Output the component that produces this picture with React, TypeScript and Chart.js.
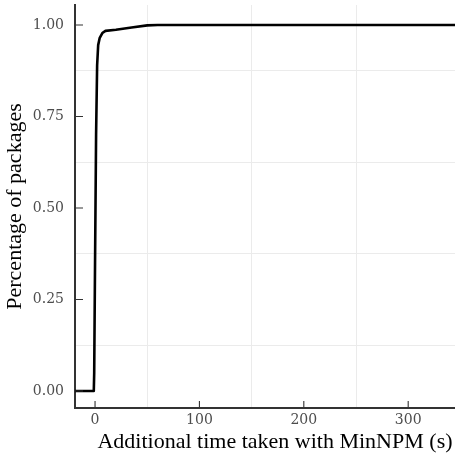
import React, { useEffect, useRef } from "react";
import { Chart, registerables } from "chart.js";

Chart.register(...registerables);

// ECDF of additional time (s) vs share of packages
const timeSeconds = [-19.2, -1.2, -0.8, 0, 1, 2, 3, 4.5, 7, 10, 20, 35, 50, 60, 364];
const cumShare = [0, 0, 0.05, 0.35, 0.7, 0.89, 0.945, 0.965, 0.978, 0.984, 0.987, 0.993, 0.999, 1.0, 1.0];

const xMajorTicks = [0, 100, 200, 300];
const xMinorTicks = [50, 150, 250, 350];
const yMajorTicks = [0, 0.25, 0.5, 0.75, 1];
const yMinorTicks = [0.125, 0.375, 0.625, 0.875];

const X_MIN = -19.2;
const X_MAX = 364;
const Y_MIN = -0.0464;
const Y_MAX = 1.0546;

const TITLE_FONT = "'Liberation Serif', serif";
const TICK_FONT = "'DejaVu Serif', serif";

const isIn = (arr: number[], v: number) => arr.some((a) => Math.abs(a - v) < 1e-9);

const inwardTicks = {
  id: "inwardTicks",
  afterDatasetsDraw(chart: any) {
    const { ctx, chartArea, scales } = chart;
    ctx.save();
    ctx.strokeStyle = "#333333";
    ctx.lineWidth = 1.1;
    ctx.beginPath();
    for (const v of xMajorTicks) {
      const px = scales.x.getPixelForValue(v);
      if (px < chartArea.left || px > chartArea.right) continue;
      ctx.moveTo(px, chartArea.bottom);
      ctx.lineTo(px, chartArea.bottom - 7);
    }
    for (const v of yMajorTicks) {
      const py = scales.y.getPixelForValue(v);
      ctx.moveTo(chartArea.left, py);
      ctx.lineTo(chartArea.left + 8, py);
    }
    ctx.stroke();
    ctx.restore();
  },
};

export default function App() {
  const ref = useRef<HTMLCanvasElement | null>(null);

  useEffect(() => {
    if (!ref.current) return;
    const data = timeSeconds.map((x, i) => ({ x, y: cumShare[i] }));
    const chart = new Chart(ref.current, {
      type: "line",
      data: {
        datasets: [
          {
            data,
            borderColor: "#000000",
            borderWidth: 2.6,
            pointRadius: 0,
            tension: 0,
            borderJoinStyle: "round",
            borderCapStyle: "butt",
            fill: false,
          },
        ],
      },
      plugins: [inwardTicks],
      options: {
        animation: false,
        responsive: false,
        layout: { padding: { left: 0, right: 5, top: 5, bottom: 0 } },
        plugins: {
          legend: { display: false },
          tooltip: { enabled: false },
        },
        scales: {
          x: {
            type: "linear",
            min: X_MIN,
            max: X_MAX,
            afterBuildTicks: (scale: any) => {
              scale.ticks = [...xMajorTicks, ...xMinorTicks]
                .sort((a, b) => a - b)
                .map((value) => ({ value }));
            },
            afterFit: (scale: any) => {
              scale.height = 50;
              scale.paddingLeft = 0;
              scale.paddingRight = 0;
              scale.paddingTop = 0;
              scale.paddingBottom = 0;
            },
            border: { display: true, color: "#333333", width: 2 },
            grid: {
              drawTicks: false,
              lineWidth: 1,
              color: (c: any) =>
                c.tick && isIn(xMinorTicks, c.tick.value) ? "#EBEBEB" : "rgba(0,0,0,0)",
            },
            ticks: {
              autoSkip: false,
              maxRotation: 0,
              padding: 4,
              color: "#4D4D4D",
              font: { family: TICK_FONT, size: 14 },
              callback: (v: any) => (isIn(xMajorTicks, Number(v)) ? String(v) : ""),
            },
            title: {
              display: true,
              text: "Additional time taken with MinNPM (s)",
              color: "#000000",
              font: { family: TITLE_FONT, size: 22 },
              padding: { top: 0, bottom: 3 },
            },
          },
          y: {
            type: "linear",
            min: Y_MIN,
            max: Y_MAX,
            afterBuildTicks: (scale: any) => {
              scale.ticks = [...yMajorTicks, ...yMinorTicks]
                .sort((a, b) => a - b)
                .map((value) => ({ value }));
            },
            afterFit: (scale: any) => {
              scale.width = 75;
              scale.paddingLeft = 0;
              scale.paddingRight = 0;
              scale.paddingTop = 0;
              scale.paddingBottom = 0;
            },
            border: { display: true, color: "#333333", width: 2 },
            grid: {
              drawTicks: false,
              lineWidth: 1,
              color: (c: any) =>
                c.tick && isIn(yMinorTicks, c.tick.value) ? "#EBEBEB" : "rgba(0,0,0,0)",
            },
            ticks: {
              autoSkip: false,
              padding: 11,
              color: "#4D4D4D",
              font: { family: TICK_FONT, size: 14 },
              callback: (v: any) => (isIn(yMajorTicks, Number(v)) ? Number(v).toFixed(2) : ""),
            },
            title: {
              display: true,
              text: "Percentage of packages",
              color: "#000000",
              font: { family: TITLE_FONT, size: 22 },
              padding: { top: 2, bottom: 0 },
            },
          },
        },
      },
    });
    return () => chart.destroy();
  }, []);

  return (
    <div
      style={{
        position: "fixed",
        left: 0,
        top: 0,
        width: 455,
        height: 458,
        overflow: "hidden",
        background: "#ffffff",
      }}
    >
      <canvas ref={ref} width={480} height={458} style={{ display: "block" }} />
    </div>
  );
}
